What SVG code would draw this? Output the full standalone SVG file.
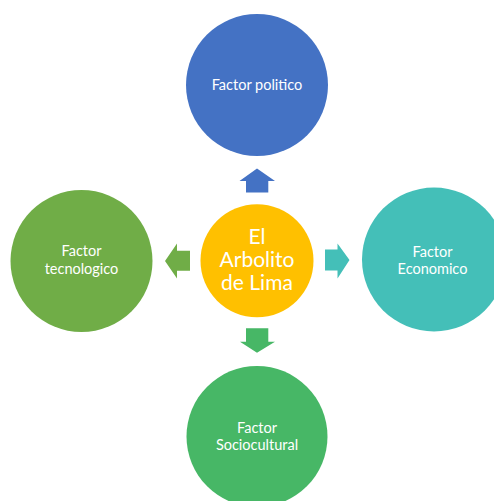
<svg xmlns="http://www.w3.org/2000/svg" width="494" height="501" viewBox="0 0 494 501">
<style>
text{font-family:"Lato","Liberation Sans",sans-serif;fill:#fff;text-anchor:middle}
.s{font-size:14.5px}
.b{font-size:21px}
</style>
<rect width="494" height="501" fill="#fff"/>
<g id="connectors">
<polygon points="257,168.5 239.5,181 246,181 246,192.5 268.3,192.5 268.3,181 275,181" fill="#4472C4"/>
<polygon points="165,261 177,243.5 177,250.7 190,250.7 190,270.7 177,270.7 177,278.5" fill="#70AD47"/>
<polygon points="349.5,260 337.5,243.5 337.5,249.5 325,249.5 325,270.5 337.5,270.5 337.5,278.5" fill="#44BFB8"/>
<polygon points="257,352.7 240,341.7 246,341.7 246,328.3 268.3,328.3 268.3,341.7 275,341.7" fill="#47B766"/>
</g>
<g id="politico">
<circle cx="257" cy="85" r="71" fill="#4472C4"/>
<text class="s" x="257" y="90">Factor politico</text>
</g>
<g id="tecnologico">
<circle cx="81.5" cy="261" r="71" fill="#70AD47"/>
<text class="s" x="81.5" y="256">Factor</text>
<text class="s" x="81.5" y="273.5">tecnologico</text>
</g>
<g id="economico">
<circle cx="434" cy="259.5" r="72" fill="#44BFB8"/>
<text class="s" x="432.5" y="256.5">Factor</text>
<text class="s" x="432.5" y="274">Economico</text>
</g>
<g id="sociocultural">
<circle cx="257" cy="436.5" r="70.5" fill="#47B766"/>
<text class="s" x="257" y="433">Factor</text>
<text class="s" x="257" y="450">Sociocultural</text>
</g>
<g id="centro">
<circle cx="257" cy="260.7" r="56.5" fill="#FFC000"/>
<text class="b" x="257" y="243.5">El</text>
<text class="b" x="257" y="266.7">Arbolito</text>
<text class="b" x="257" y="290">de Lima</text>
</g>
</svg>
